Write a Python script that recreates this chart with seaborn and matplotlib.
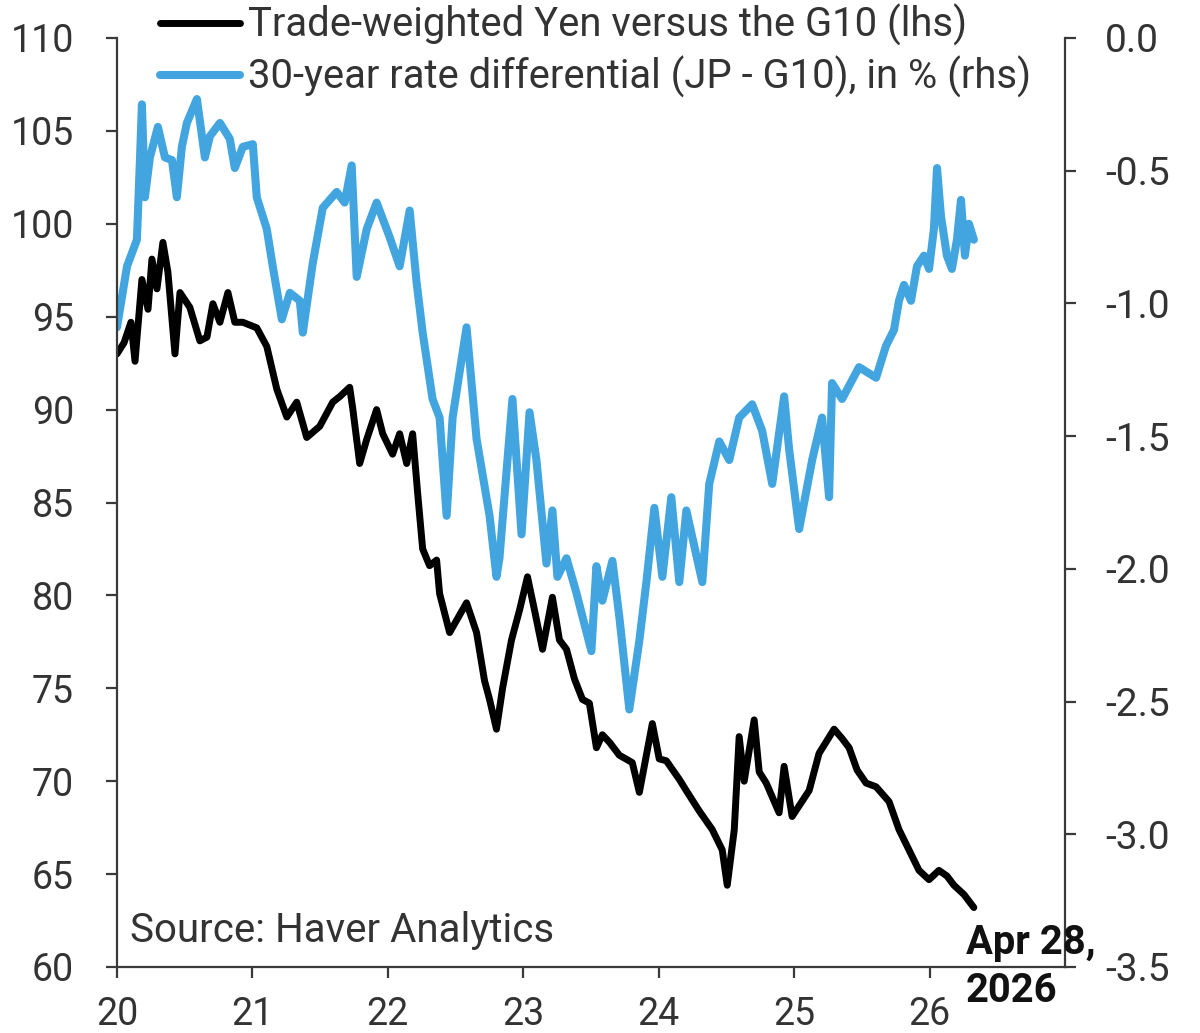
import matplotlib
matplotlib.use("Agg")
import matplotlib.pyplot as plt
import seaborn as sns
import pandas as pd

# ---- data ----
yen_years = [2020.000, 2020.052, 2020.103, 2020.133, 2020.184, 2020.229, 2020.258, 2020.295,
             2020.339, 2020.376, 2020.428, 2020.465, 2020.538, 2020.612, 2020.664, 2020.708,
             2020.760, 2020.819, 2020.870, 2020.929, 2021.032, 2021.106, 2021.180, 2021.254,
             2021.327, 2021.401, 2021.497, 2021.593, 2021.645, 2021.718, 2021.740, 2021.792,
             2021.844, 2021.917, 2021.962, 2022.035, 2022.087, 2022.139, 2022.183, 2022.220,
             2022.257, 2022.308, 2022.360, 2022.382, 2022.456, 2022.581, 2022.655, 2022.714,
             2022.751, 2022.802, 2022.847, 2022.913, 2022.972, 2023.031, 2023.083, 2023.142,
             2023.215, 2023.267, 2023.319, 2023.378, 2023.437, 2023.488, 2023.540, 2023.584,
             2023.636, 2023.709, 2023.805, 2023.857, 2023.953, 2024.004, 2024.056, 2024.152,
             2024.203, 2024.299, 2024.395, 2024.469, 2024.506, 2024.558, 2024.594, 2024.631,
             2024.705, 2024.742, 2024.794, 2024.889, 2024.926, 2024.985, 2025.111, 2025.184,
             2025.295, 2025.354, 2025.406, 2025.465, 2025.531, 2025.605, 2025.701, 2025.774,
             2025.848, 2025.922, 2025.996, 2026.069, 2026.128, 2026.180, 2026.254, 2026.327]
yen_values = [93.0, 93.6, 94.7, 92.6, 97.0, 95.4, 98.1, 96.5,
              99.0, 97.4, 93.0, 96.3, 95.5, 93.7, 93.9, 95.7,
              94.7, 96.3, 94.7, 94.7, 94.4, 93.4, 91.1, 89.6,
              90.4, 88.5, 89.1, 90.4, 90.7, 91.2, 90.1, 87.1,
              88.4, 90.0, 88.7, 87.6, 88.7, 87.1, 88.7, 85.5,
              82.5, 81.6, 81.9, 80.1, 78.0, 79.6, 78.0, 75.4,
              74.4, 72.8, 75.0, 77.6, 79.2, 81.0, 79.2, 77.1,
              79.9, 77.6, 77.1, 75.5, 74.4, 74.2, 71.8, 72.5,
              72.1, 71.4, 71.0, 69.4, 73.1, 71.2, 71.1, 70.1,
              69.5, 68.4, 67.4, 66.3, 64.4, 67.4, 72.4, 70.0,
              73.3, 70.5, 69.9, 68.3, 70.8, 68.1, 69.5, 71.5,
              72.8, 72.3, 71.8, 70.6, 69.9, 69.7, 68.9, 67.4,
              66.3, 65.2, 64.7, 65.2, 64.9, 64.4, 63.9, 63.2]

diff_years = [2020.000, 2020.074, 2020.147, 2020.170, 2020.184, 2020.206, 2020.243, 2020.302,
              2020.354, 2020.406, 2020.442, 2020.479, 2020.516, 2020.590, 2020.649, 2020.686,
              2020.760, 2020.833, 2020.870, 2020.929, 2021.003, 2021.032, 2021.106, 2021.150,
              2021.217, 2021.276, 2021.350, 2021.372, 2021.445, 2021.519, 2021.622, 2021.681,
              2021.733, 2021.770, 2021.844, 2021.917, 2022.013, 2022.087, 2022.161, 2022.212,
              2022.257, 2022.330, 2022.382, 2022.434, 2022.478, 2022.581, 2022.655, 2022.751,
              2022.802, 2022.824, 2022.920, 2022.987, 2023.046, 2023.097, 2023.171, 2023.215,
              2023.252, 2023.319, 2023.392, 2023.437, 2023.503, 2023.540, 2023.584, 2023.658,
              2023.709, 2023.783, 2023.857, 2023.909, 2023.968, 2024.027, 2024.093, 2024.152,
              2024.204, 2024.322, 2024.373, 2024.447, 2024.521, 2024.594, 2024.690, 2024.764,
              2024.838, 2024.926, 2024.963, 2025.037, 2025.133, 2025.206, 2025.258, 2025.280,
              2025.354, 2025.479, 2025.605, 2025.678, 2025.737, 2025.774, 2025.811, 2025.863,
              2025.907, 2025.959, 2025.996, 2026.032, 2026.055, 2026.084, 2026.128, 2026.165,
              2026.202, 2026.232, 2026.261, 2026.291, 2026.327]
diff_values = [-1.09, -0.86, -0.76, -0.45, -0.25, -0.60, -0.45, -0.335,
               -0.45, -0.46, -0.60, -0.41, -0.32, -0.23, -0.45, -0.37,
               -0.32, -0.38, -0.49, -0.41, -0.40, -0.60, -0.72, -0.86,
               -1.06, -0.96, -0.99, -1.11, -0.85, -0.64, -0.58, -0.62,
               -0.48, -0.90, -0.72, -0.62, -0.75, -0.86, -0.65, -0.92,
               -1.11, -1.36, -1.43, -1.80, -1.43, -1.09, -1.51, -1.80,
               -2.03, -1.96, -1.36, -1.87, -1.41, -1.59, -1.98, -1.78,
               -2.03, -1.96, -2.09, -2.18, -2.31, -1.99, -2.12, -1.97,
               -2.18, -2.53, -2.27, -2.05, -1.77, -2.03, -1.73, -2.05,
               -1.78, -2.05, -1.68, -1.52, -1.59, -1.43, -1.38, -1.48,
               -1.68, -1.35, -1.55, -1.85, -1.59, -1.43, -1.73, -1.30,
               -1.36, -1.24, -1.28, -1.16, -1.10, -0.99, -0.93, -0.99,
               -0.86, -0.82, -0.87, -0.72, -0.49, -0.67, -0.82, -0.87,
               -0.76, -0.61, -0.82, -0.70, -0.76]

year_ticks = [2020, 2021, 2022, 2023, 2024, 2025, 2026]
year_labels = ["20", "21", "22", "23", "24", "25", "26"]
left_ticks = [60, 65, 70, 75, 80, 85, 90, 95, 100, 105, 110]
right_ticks = [-3.5, -3.0, -2.5, -2.0, -1.5, -1.0, -0.5, 0.0]

label_yen = "Trade-weighted Yen versus the G10 (lhs)"
label_diff = "30-year rate differential (JP - G10), in % (rhs)"
source_text = "Source: Haver Analytics"
date_text = "Apr 28,\n2026"

BLACK = "#000000"
BLUE = "#42A5DF"
SPINE = "#3a3a3a"
TEXT = "#333333"

sns.set_style("ticks")
plt.rcParams["font.family"] = ["Roboto", "DejaVu Sans"]

df_yen = pd.DataFrame({"year": yen_years, "value": yen_values})
df_diff = pd.DataFrame({"year": diff_years, "value": diff_values})

fig = plt.figure(figsize=(12, 10.33), dpi=100)
ax = fig.add_axes([117 / 1200, 1 - 967 / 1033, (1065 - 117) / 1200, (967 - 38) / 1033])
ax2 = ax.twinx()

sns.lineplot(data=df_diff, x="year", y="value", ax=ax2, color=BLUE, linewidth=5.8,
             label=label_diff, legend=False)
sns.lineplot(data=df_yen, x="year", y="value", ax=ax, color=BLACK, linewidth=5.0,
             label=label_yen, legend=False)

ax.set_zorder(ax2.get_zorder() + 1)
ax.patch.set_visible(False)

ax.set_xlim(2020, 2027)
ax.set_ylim(60, 110)
ax2.set_ylim(-3.5, 0.0)
ax.set_xticks(year_ticks)
ax.set_xticklabels(year_labels)
ax.set_yticks(left_ticks)
ax.set_yticklabels([str(v) for v in left_ticks])
ax2.set_yticks(right_ticks)
ax2.set_yticklabels([f"{v:.1f}" for v in right_ticks])
ax.set_xlabel("")
ax.set_ylabel("")
ax2.set_ylabel("")

for a in (ax, ax2):
    a.spines["top"].set_visible(False)
    for s in ("left", "right", "bottom"):
        a.spines[s].set_color(SPINE)
        a.spines[s].set_linewidth(1.6)
ax.spines["right"].set_visible(False)
ax2.spines["left"].set_visible(False)
ax2.spines["bottom"].set_visible(False)

ax.tick_params(axis="y", direction="out", length=8, width=1.6, color=SPINE,
               labelsize=27, labelcolor=TEXT, pad=23)
ax.tick_params(axis="x", direction="out", length=8, width=1.6, color=SPINE,
               labelsize=27, labelcolor=TEXT, pad=13)
ax2.tick_params(axis="y", direction="out", length=8, width=1.6, color=SPINE,
                labelsize=28, labelcolor=TEXT, pad=21)

h1, l1 = ax.get_legend_handles_labels()
h2, l2 = ax2.get_legend_handles_labels()
leg = fig.legend(h1 + h2, l1 + l2, loc="upper left", bbox_to_anchor=(160 / 1200, 0.996),
                 frameon=False, fontsize=28.8, handlelength=2.0, handletextpad=0.2,
                 labelspacing=0.25, borderpad=0, borderaxespad=0)
for t in leg.get_texts():
    t.set_color(TEXT)

fig.text(130 / 1200, 1 - 930 / 1033, source_text, fontsize=29, color=TEXT,
         ha="left", va="center")
fig.text(966 / 1200, 1 - 967 / 1033, date_text, fontsize=28.8, color="#111111",
         fontweight="bold", ha="left", va="center", linespacing=1.35)

fig.savefig("out.png", dpi=100)
